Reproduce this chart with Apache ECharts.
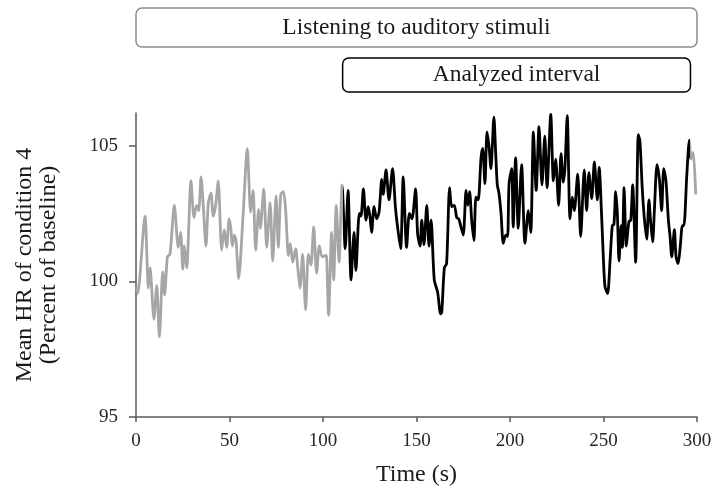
<!DOCTYPE html>
<html>
<head>
<meta charset="utf-8">
<script src="https://cdn.jsdelivr.net/npm/echarts@6/dist/echarts.min.js"></script>
<style>
  html, body { margin: 0; padding: 0; background: #fff; }
  #chart { width: 713px; height: 488px; }
</style>
</head>
<body>
<div id="chart"></div>
<script>
// Mean heart rate (percent of baseline) sampled over the listening session
const timeSec = [
  0.3, 0.9, 4.8, 6.6, 7.5, 9.6, 11.1, 12.5, 14.3, 15.3, 16.8, 18.2, 20.5, 22.6, 23.9, 25.0,
  25.8, 27.1, 29.4, 31.0, 32.4, 33.5, 34.8, 36.0, 37.4, 38.7, 40.1, 41.3, 42.6, 44.0, 45.8,
  47.2, 48.5, 49.8, 50.8, 51.5, 52.6, 53.5, 54.9, 57.4, 59.5, 61.3, 62.6, 64.0, 65.6, 66.5,
  68.3, 69.9, 71.7, 73.1, 74.9, 76.1, 77.4, 78.8, 80.0, 81.5, 82.5, 83.8, 85.4, 86.5, 87.7,
  89.1, 90.7, 92.2, 93.6, 95.0, 96.6, 98.0, 99.6, 101.6, 102.0, 103.0, 104.6, 105.7, 107.1,
  108.6, 110.2, 111.9, 113.4, 115.0, 116.6, 117.6, 119.4, 120.3, 121.6, 123.0, 124.2, 125.1,
  126.0, 127.3, 128.7, 130.0, 131.4, 132.2, 133.7, 135.3, 137.2, 138.7, 139.7, 141.5, 142.9,
  144.7, 146.2, 147.6, 149.5, 150.6, 151.9, 152.8, 154.0, 155.5, 156.7, 157.8, 159.5, 161.3,
  162.9, 163.5, 164.9, 166.1, 167.7, 168.8, 170.2, 171.5, 172.6, 173.6, 175.0, 176.5, 177.4,
  178.4, 179.5, 180.7, 181.8, 183.0, 184.5, 185.4, 186.6, 187.7, 188.8, 189.8, 191.4, 192.3,
  193.2, 194.1, 195.2, 196.4, 197.7, 198.7, 199.5, 200.9, 201.7, 203.0, 204.4, 206.2, 208.0,
  209.8, 211.1, 212.5, 214.0, 215.5, 217.1, 218.6, 219.8, 221.8, 223.2, 224.4, 226.0, 227.3,
  228.5, 229.4, 230.6, 232.1, 233.3, 234.4, 236.2, 237.8, 239.7, 241.0, 242.2, 243.7, 245.1,
  246.7, 247.7, 249.0, 249.9, 250.8, 252.2, 253.5, 254.7, 255.6, 256.5, 257.4, 258.3, 259.4,
  260.1, 261.0, 262.2, 263.6, 264.6, 265.6, 267.2, 268.6, 269.5, 270.7, 271.8, 273.1, 274.3,
  275.2, 276.3, 277.2, 278.6, 279.9, 281.1, 282.2, 283.4, 284.7, 285.6, 286.5, 287.9, 288.8,
  289.9, 291.0, 292.2, 293.0, 294.5, 295.9, 296.8, 298.0, 299.3
];
const hrPct = [
  99.8, 99.55, 102.4, 99.75, 100.5, 98.6, 99.85, 97.95, 100.35, 99.5, 100.9, 101.0, 102.8, 101.25, 101.8, 100.45,
  101.3, 100.5, 103.7, 102.35, 102.8, 102.6, 103.85, 102.75, 101.3, 102.9, 103.25, 102.4, 102.8, 103.7, 101.15,
  101.9, 101.25, 102.3, 101.9, 101.3, 101.7, 101.5, 100.1, 102.6, 104.9, 102.55, 103.35, 101.15, 102.65, 101.95,
  103.4, 101.25, 102.9, 100.75, 103.15, 101.25, 103.2, 103.3, 102.65, 100.95, 101.4, 100.7, 101.2, 100.5, 99.75,
  101.0, 98.95, 101.0, 100.6, 102.0, 100.3, 101.3, 100.9, 100.95, 100.8, 98.75, 101.8, 100.05, 102.8,
  100.7, 103.55, 101.2, 103.35, 100.05, 101.8, 100.4, 102.5, 102.4, 103.4, 102.25, 102.75, 102.4,
  101.8, 102.75, 102.3, 102.55, 103.75, 103.2, 104.1, 103.0, 104.15, 102.75, 102.1, 101.2, 103.85,
  101.25, 102.5, 102.3, 103.4, 101.75, 101.3, 102.25, 101.35, 102.8, 101.3, 102.25, 100.05, 99.6,
  98.8, 98.85, 100.5, 100.65, 103.45, 102.75, 102.8, 102.35, 102.3, 102.05, 101.7, 103.35, 102.8,
  103.3, 102.25, 101.5, 103.1, 103.0, 104.55, 104.9, 103.6, 105.5, 104.95, 104.15, 106.05, 104.8,
  103.55, 103.25, 102.5, 101.4, 101.7, 101.65, 103.6, 104.15, 102.0, 104.55, 101.95, 104.3, 101.4,
  102.6, 101.8, 105.5, 103.35, 105.7, 103.55, 105.35, 103.45, 106.15, 103.7, 104.5, 102.8, 104.7,
  103.65, 104.2, 106.1, 102.3, 103.1, 102.6, 103.95, 101.65, 104.1, 102.6, 104.0, 103.05, 104.4,
  103.0, 104.2, 102.4, 100.9, 99.8, 99.55, 100.75, 102.05, 102.1, 103.3, 102.5, 100.75, 102.05,
  101.25, 103.45, 101.3, 102.2, 102.25, 103.55, 100.7, 105.4, 105.15, 103.45, 102.35, 101.55, 103.0,
  102.2, 101.45, 102.6, 104.3, 103.75, 102.6, 104.15, 103.7, 102.25, 101.65, 100.9, 101.9, 100.9,
  100.65, 101.25, 102.05, 102.05, 103.85, 105.2, 104.5, 104.75, 103.2
];

// Session phases (seconds)
const listeningWindow = [0, 300];
const analyzedWindow = [110.5, 296.5];

// Axis ticks
const xTicks = [0, 50, 100, 150, 200, 250, 300];
const yTicks = [95, 100, 105];

const FONT = '"Liberation Serif", "Times New Roman", serif';
const AXIS_COLOR = '#595959';
const GREY_LINE = '#a6a6a6';
const TEXT_COLOR = '#1a1a1a';

const points = timeSec.map((t, i) => [t, hrPct[i]]);

const chart = echarts.init(document.getElementById('chart'), null, { renderer: 'canvas' });

chart.setOption({
  animation: false,
  backgroundColor: '#ffffff',
  grid: { left: 136, right: 16, top: 113, bottom: 71, containLabel: false, outerBoundsMode: 'none' },
  xAxis: {
    type: 'value',
    min: xTicks[0],
    max: xTicks[xTicks.length - 1],
    interval: 50,
    name: 'Time (s)',
    nameLocation: 'middle',
    nameGap: 46,
    nameTextStyle: { fontFamily: FONT, fontSize: 24, color: TEXT_COLOR, verticalAlign: 'top' },
    axisLine: { lineStyle: { color: AXIS_COLOR, width: 1.5 } },
    axisTick: { show: true, length: 5, lineStyle: { color: AXIS_COLOR, width: 1.5 } },
    axisLabel: { fontFamily: FONT, fontSize: 19, color: '#262626', margin: 15 },
    splitLine: { show: false }
  },
  yAxis: {
    type: 'value',
    min: 95,
    max: 106.2,
    interval: 5,
    name: 'Mean HR of condition 4\n(Percent of baseline)',
    nameLocation: 'middle',
    nameRotate: 90,
    nameGap: 76,
    nameTextStyle: { fontFamily: FONT, fontSize: 24, color: TEXT_COLOR, lineHeight: 23.5 },
    axisLine: { show: true, lineStyle: { color: AXIS_COLOR, width: 1.5 } },
    axisTick: { show: true, length: 7, customValues: yTicks, lineStyle: { color: AXIS_COLOR, width: 1.5 } },
    axisLabel: { fontFamily: FONT, fontSize: 19, color: '#262626', margin: 18, customValues: yTicks },
    splitLine: { show: false }
  },
  visualMap: {
    type: 'piecewise',
    show: false,
    dimension: 0,
    seriesIndex: 0,
    pieces: [
      { lt: analyzedWindow[0], color: GREY_LINE },
      { gte: analyzedWindow[0], lte: analyzedWindow[1], color: '#000000' },
      { gt: analyzedWindow[1], color: GREY_LINE }
    ]
  },
  series: [{
    type: 'line',
    data: points,
    showSymbol: false,
    smooth: 0.25,
    lineStyle: { width: 2.8 },
    z: 3
  }]
});

// Phase labels above the plot, spanning their time windows on the x scale
function phaseBox(window, top, height, stroke, label) {
  const x0 = chart.convertToPixel({ xAxisIndex: 0 }, window[0]);
  const x1 = chart.convertToPixel({ xAxisIndex: 0 }, window[1]);
  return {
    type: 'group',
    children: [
      {
        type: 'rect',
        shape: { x: x0, y: top, width: x1 - x0, height: height, r: 6 },
        style: { fill: '#ffffff', stroke: stroke, lineWidth: 1.5 }
      },
      {
        type: 'text',
        x: (x0 + x1) / 2,
        y: top + height / 2,
        style: {
          text: label,
          fontFamily: FONT,
          fontSize: 23.5,
          fill: TEXT_COLOR,
          align: 'center',
          verticalAlign: 'middle'
        }
      }
    ]
  };
}

chart.setOption({
  graphic: [
    phaseBox(listeningWindow, 8, 39, '#8c8c8c', 'Listening to auditory stimuli'),
    phaseBox(analyzedWindow, 58, 34, '#000000', 'Analyzed interval')
  ]
});
</script>
</body>
</html>
